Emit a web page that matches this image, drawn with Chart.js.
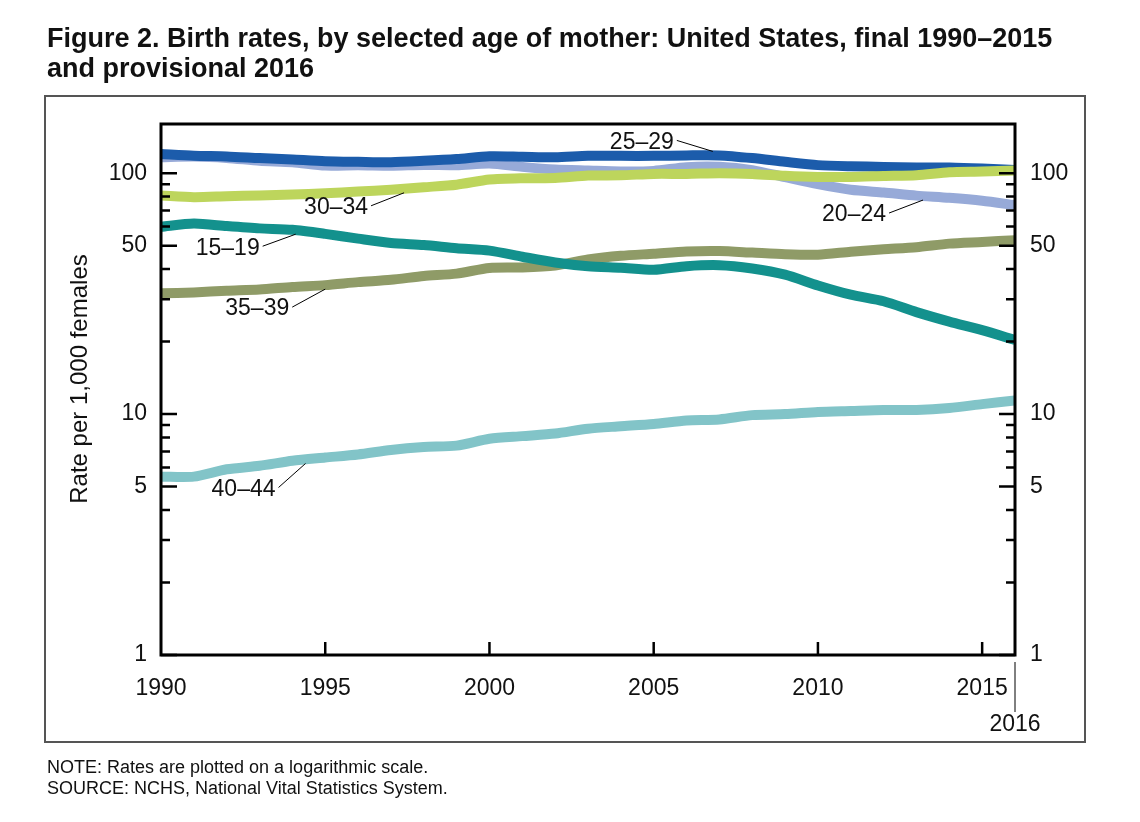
<!DOCTYPE html>
<html>
<head>
<meta charset="utf-8">
<script src="https://cdn.jsdelivr.net/npm/chart.js@4.4.0/dist/chart.umd.min.js"></script>
<style>
  html, body { margin: 0; padding: 0; background: #fff; }
  #wrap { width: 1140px; height: 822px; position: relative; }
</style>
</head>
<body>
<div id="wrap"><canvas id="birthChart"></canvas></div>
<script>
// Birth rates per 1,000 females, by age of mother
const years = [1990, 1991, 1992, 1993, 1994, 1995, 1996, 1997, 1998, 1999, 2000, 2001, 2002,
  2003, 2004, 2005, 2006, 2007, 2008, 2009, 2010, 2011, 2012, 2013, 2014, 2015, 2016];

const rates15to19 = [59.9, 61.8, 60.3, 59.0, 58.2, 56.0, 53.5, 51.3, 50.3, 48.8, 47.7, 45.0, 42.6,
  41.1, 40.5, 39.7, 41.1, 41.5, 40.2, 37.9, 34.2, 31.3, 29.4, 26.5, 24.2, 22.3, 20.3];
const rates20to24 = [116.5, 117.2, 115.7, 112.6, 111.1, 107.5, 107.8, 107.3, 108.2, 107.9, 109.7, 106.2, 103.6,
  102.6, 101.7, 102.2, 105.9, 106.3, 103.0, 96.2, 90.0, 85.3, 83.1, 80.7, 79.0, 76.8, 73.7];
const rates25to29 = [120.2, 118.2, 117.4, 115.5, 113.9, 112.2, 111.5, 111.0, 112.5, 114.5, 117.5, 117.0, 116.5,
  118.0, 118.0, 118.0, 118.5, 118.5, 115.5, 111.5, 108.0, 106.8, 106.2, 105.5, 105.5, 104.5, 103.0];
const rates30to34 = [80.8, 79.5, 80.2, 80.8, 81.5, 82.5, 83.9, 85.3, 87.4, 89.6, 94.1, 95.3, 95.5,
  97.7, 98.0, 99.3, 99.3, 99.9, 99.3, 97.5, 96.5, 96.5, 97.3, 98.0, 100.8, 101.5, 102.7];
const rates35to39 = [31.7, 32.0, 32.5, 32.9, 33.7, 34.3, 35.3, 36.1, 37.4, 38.3, 40.4, 40.6, 41.4,
  43.8, 45.4, 46.3, 47.3, 47.5, 46.8, 46.1, 45.9, 47.2, 48.3, 49.3, 51.0, 51.8, 52.7];
const rates40to44 = [5.5, 5.5, 5.9, 6.1, 6.4, 6.6, 6.8, 7.1, 7.3, 7.4, 7.9, 8.1, 8.3,
  8.7, 8.9, 9.1, 9.4, 9.5, 9.9, 10.0, 10.2, 10.3, 10.4, 10.4, 10.6, 11.0, 11.4];

const yTickValues = [1, 5, 10, 50, 100];
const yMinorValues = [2, 3, 4, 6, 7, 8, 9, 20, 30, 40, 60, 70, 80, 90];
const xTickValues = [1990, 1995, 2000, 2005, 2010, 2015];

const FONT = '"Liberation Sans", Arial, Helvetica, sans-serif';

// drawn bottom to top: first entry ends up on top
const series = [
  { name: '30–34', values: rates30to34, color: '#bdd55c' },
  { name: '25–29', values: rates25to29, color: '#1c5cab' },
  { name: '20–24', values: rates20to24, color: '#97aad8' },
  { name: '15–19', values: rates15to19, color: '#13918d' },
  { name: '35–39', values: rates35to39, color: '#8f9b67' },
  { name: '40–44', values: rates40to44, color: '#82c4c8' }
];

// where the age-group labels sit: leader starts dx,dy px from the line at that year
const labelSpots = [
  { name: '25–29', year: 2006.8, dx: -36, dy: -11 },
  { name: '20–24', year: 2013.2, dx: -34, dy: 13 },
  { name: '30–34', year: 1997.4, dx: -33, dy: 13 },
  { name: '15–19', year: 1994.1, dx: -33, dy: 12 },
  { name: '35–39', year: 1995.0, dx: -33, dy: 18 },
  { name: '40–44', year: 1994.4, dx: -27, dy: 24 }
];

function valueAt(values, year) {
  const i = Math.min(Math.floor(year - years[0]), values.length - 2);
  const t = year - years[i];
  return values[i] * Math.pow(values[i + 1] / values[i], t);
}

const framePlugin = {
  id: 'frame',
  beforeDraw(chart) {
    const ctx = chart.ctx;
    ctx.save();
    ctx.fillStyle = '#fff';
    ctx.fillRect(0, 0, chart.width, chart.height);
    ctx.restore();
  },
  afterDatasetsDraw(chart) {
    const { ctx, chartArea: a, scales: { x, y } } = chart;
    ctx.save();
    ctx.strokeStyle = '#000';
    ctx.lineWidth = 3;
    ctx.strokeRect(a.left, a.top, a.right - a.left, a.bottom - a.top);

    // inward ticks on both y axes
    ctx.lineWidth = 2.5;
    const tick = (v, len) => {
      const py = y.getPixelForValue(v);
      ctx.beginPath();
      ctx.moveTo(a.left, py); ctx.lineTo(a.left + len, py);
      ctx.moveTo(a.right, py); ctx.lineTo(a.right - len, py);
      ctx.stroke();
    };
    yTickValues.forEach(v => tick(v, 16));
    yMinorValues.forEach(v => tick(v, 9));

    // x ticks point up
    xTickValues.slice(1).forEach(yr => {
      const px = x.getPixelForValue(yr);
      ctx.beginPath();
      ctx.moveTo(px, a.bottom); ctx.lineTo(px, a.bottom - 13);
      ctx.stroke();
    });

    // provisional 2016 marker
    const p16 = x.getPixelForValue(2016);
    ctx.lineWidth = 1;
    ctx.beginPath();
    ctx.moveTo(p16, a.bottom + 7); ctx.lineTo(p16, a.bottom + 57);
    ctx.stroke();
    ctx.fillStyle = '#111';
    ctx.font = '23px ' + FONT;
    ctx.textAlign = 'center';
    ctx.textBaseline = 'alphabetic';
    ctx.fillText('2016', p16, 731);

    // age group labels with leader lines
    ctx.textAlign = 'right';
    ctx.textBaseline = 'middle';
    labelSpots.forEach(spot => {
      const s = series.find(d => d.name === spot.name);
      const ex = x.getPixelForValue(spot.year);
      const ey = y.getPixelForValue(valueAt(s.values, spot.year)) + Math.sign(spot.dy) * 4;
      const sx = ex + spot.dx, sy = ey + spot.dy;
      ctx.beginPath();
      ctx.moveTo(sx, sy); ctx.lineTo(ex, ey);
      ctx.stroke();
      ctx.fillText(spot.name, sx - 3, sy + 2);
    });
    ctx.restore();
  },
  afterDraw(chart) {
    const ctx = chart.ctx;
    ctx.save();
    ctx.fillStyle = '#111';
    ctx.textAlign = 'left';
    ctx.textBaseline = 'alphabetic';
    ctx.font = 'bold 27px ' + FONT;
    ctx.fillText('Figure 2. Birth rates, by selected age of mother: United States, final 1990–2015', 47, 47);
    ctx.fillText('and provisional 2016', 47, 77);
    ctx.font = '18px ' + FONT;
    ctx.fillText('NOTE: Rates are plotted on a logarithmic scale.', 47, 773);
    ctx.fillText('SOURCE: NCHS, National Vital Statistics System.', 47, 794);

    // y axis title
    ctx.save();
    ctx.translate(87, 379);
    ctx.rotate(-Math.PI / 2);
    ctx.textAlign = 'center';
    ctx.font = '24px ' + FONT;
    ctx.fillText('Rate per 1,000 females', 0, 0);
    ctx.restore();

    ctx.strokeStyle = '#555';
    ctx.lineWidth = 2;
    ctx.strokeRect(45, 96, 1040, 646);
    ctx.restore();
  }
};

const logAxis = (position, width, pad) => ({
  type: 'logarithmic',
  position: position,
  min: 1,
  max: 160,
  grid: { display: false, drawTicks: false },
  border: { display: false },
  afterBuildTicks: scale => { scale.ticks = yTickValues.map(v => ({ value: v })); },
  afterFit: scale => { scale.width = width; },
  ticks: {
    padding: pad,
    color: '#111',
    font: { family: FONT, size: 23 },
    callback: v => String(v)
  }
});

const ctxBirth = document.getElementById('birthChart').getContext('2d');
new Chart(ctxBirth, {
  type: 'line',
  data: {
    datasets: series.map(s => ({
      label: s.name,
      data: years.map((yr, i) => ({ x: yr, y: s.values[i] })),
      borderColor: s.color,
      backgroundColor: s.color,
      borderWidth: 10,
      borderCapStyle: 'butt',
      borderJoinStyle: 'round',
      pointRadius: 0,
      tension: 0.25,
      yAxisID: 'y'
    }))
  },
  options: {
    responsive: true,
    maintainAspectRatio: false,
    animation: false,
    layout: { padding: { top: 124, left: 0, right: 0, bottom: 0 } },
    plugins: {
      legend: { display: false },
      tooltip: { enabled: false },
      title: { display: false }
    },
    scales: {
      x: {
        type: 'linear',
        min: 1990,
        max: 2016,
        grid: { display: false, drawTicks: false },
        border: { display: false },
        afterBuildTicks: scale => { scale.ticks = xTickValues.map(v => ({ value: v })); },
        afterFit: scale => { scale.height = 167; },
        ticks: {
          padding: 20,
          autoSkip: false,
          maxRotation: 0,
          color: '#111',
          font: { family: FONT, size: 23 },
          callback: v => String(v)
        }
      },
      y: logAxis('left', 161, 14),
      y2: logAxis('right', 125, 15)
    }
  },
  plugins: [framePlugin]
});
</script>
</body>
</html>
